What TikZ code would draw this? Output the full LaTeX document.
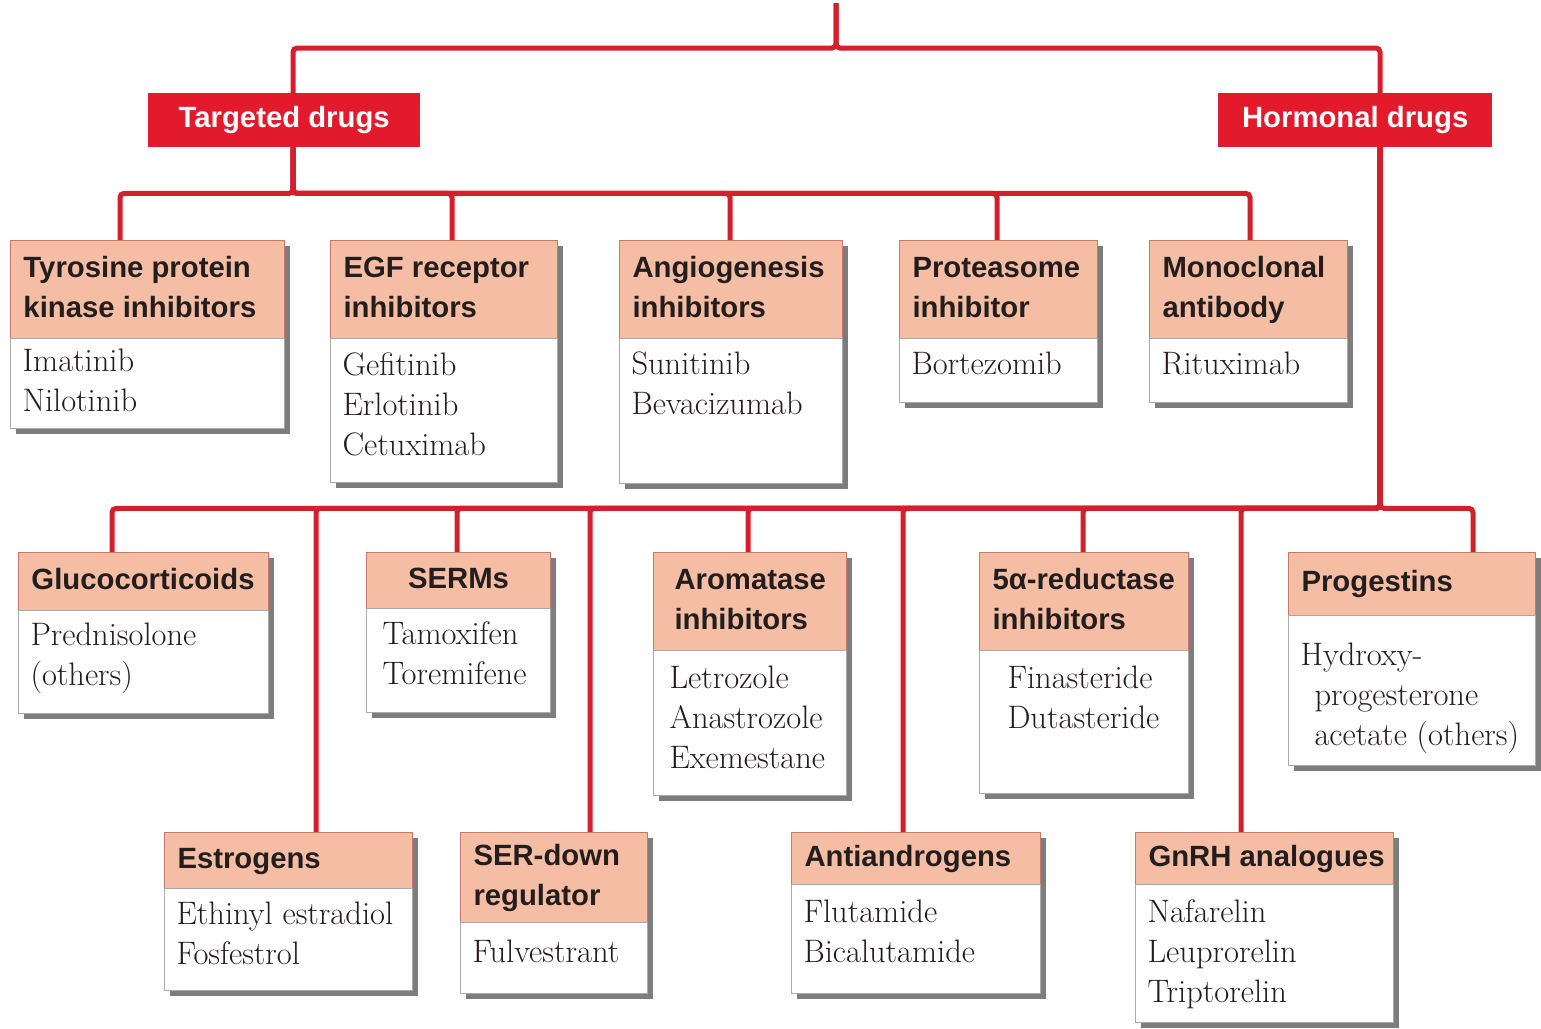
\documentclass[tikz,border=0pt]{standalone}
\usepackage{fontspec}
\usetikzlibrary{calc,shadows}
\newfontfamily\hsansfam{Liberation Sans}
\newcommand{\headfont}{\hsansfam\bfseries\fontsize{29.3}{40}\selectfont}
\newcommand{\bodyfont}{\fontsize{32.5}{40}\selectfont}
\definecolor{redline}{RGB}{212,32,44}
\definecolor{redfill}{RGB}{226,26,44}
\definecolor{salmon}{RGB}{246,189,165}
\definecolor{hdredge}{RGB}{200,120,105}
\definecolor{bodyedge}{RGB}{170,170,170}
\definecolor{shadowgray}{RGB}{125,125,125}
\definecolor{txt}{RGB}{35,30,30}
\pgfdeclarelayer{background}
\pgfsetlayers{background,main}
\tikzset{
  conn/.style={draw=redline, line width=5pt, rounded corners=4pt},
  hdr/.style={draw=hdredge, line width=1pt, fill=salmon, inner sep=0pt, anchor=north west,
    font=\headfont, text=txt,
    drop shadow={shadow xshift=5pt, shadow yshift=-5pt, fill=shadowgray, opacity=1}},
  bodybox/.style={draw=bodyedge, line width=1pt, fill=white, inner sep=0pt, anchor=north west,
    font=\bodyfont, text=txt,
    drop shadow={shadow xshift=5pt, shadow yshift=-5pt, fill=shadowgray, opacity=1}},
  redbox/.style={fill=redfill, text=white, font=\headfont, inner sep=0pt, anchor=north west}
}
% name, x1, x2, ytop, ymid, ybot, header, first baseline, body
\newcommand{\drugbox}[9]{%
  \pgfmathsetmacro{\dbw}{#3-#2}%
  \pgfmathsetmacro{\dbh}{#5-#4}%
  \pgfmathsetmacro{\dbb}{#6-#5}%
  \node[hdr] (#1h) at (#2,#4) {\parbox[c][\dbh pt][c]{\dbw pt}{\raggedright\leftskip=13pt\relax\rule{0pt}{23pt}#7\rule[-8pt]{0pt}{8pt}}};
  \node[bodybox] (#1b) at (#2,#5) {\parbox[c][\dbb pt][t]{\dbw pt}{\raggedright\leftskip=12pt\relax\rule{0pt}{#8pt}#9}};
}
\begin{document}
\begin{tikzpicture}[x=1pt,y=-1pt]
\useasboundingbox (0,0) rectangle (1541,1028);

% top-level red boxes
\node[redbox, minimum width=272pt, minimum height=54pt] (targ) at (148,93) {Targeted drugs};
\node[redbox, minimum width=274pt, minimum height=54pt] (horm) at (1218,93) {Hormonal drugs};
\coordinate (root) at (836,3);

% targeted drug boxes
\drugbox{tyr}{10}{284}{240}{338}{428}{Tyrosine protein\\kinase inhibitors}{33}{Imatinib\\Nilotinib}
\drugbox{egf}{330}{557}{240}{338}{482}{EGF receptor\\inhibitors}{37}{Gefitinib\\Erlotinib\\Cetuximab}
\drugbox{ang}{619}{842}{240}{338}{483}{Angiogenesis\\inhibitors}{36}{Sunitinib\\Bevacizumab}
\drugbox{pro}{899}{1097}{240}{338}{402}{Proteasome\\inhibitor}{36}{Bortezomib}
\drugbox{mab}{1149}{1347}{240}{338}{402}{Monoclonal\\antibody}{36}{Rituximab}

% hormonal drug boxes, upper row
\drugbox{glu}{18}{268}{552}{610}{713}{Glucocorticoids}{35}{Prednisolone\\(others)}
\drugbox{serm}{366}{550}{552}{608}{712}{\centering SERMs}{36}{\hspace*{4pt}Tamoxifen\\\hspace*{4pt}Toremifene}
\drugbox{aro}{653}{846}{552}{650}{795}{\hspace*{8pt}Aromatase\\\hspace*{8pt}inhibitors}{38}{\hspace*{4pt}Letrozole\\\hspace*{4pt}Anastrozole\\\hspace*{4pt}Exemestane}
\drugbox{red}{979}{1188}{552}{650}{793}{5α-reductase\\inhibitors}{38}{\hspace*{16pt}Finasteride\\\hspace*{16pt}Dutasteride}
\drugbox{prg}{1288}{1535}{552}{615}{765}{Progestins}{50}{Hydroxy-\\\hspace*{14pt}progesterone\\\hspace*{14pt}acetate (others)}

% hormonal drug boxes, lower row
\drugbox{est}{164}{412}{832}{888}{990}{Estrogens}{36}{Ethinyl estradiol\\Fosfestrol}
\drugbox{sed}{460}{647}{832}{922}{993}{SER-down\\regulator}{40}{Fulvestrant}
\drugbox{ant}{791}{1040}{832}{884}{993}{Antiandrogens}{38}{Flutamide\\Bicalutamide}
\drugbox{gnr}{1135}{1393}{832}{884}{1022}{GnRH analogues}{38}{Nafarelin\\Leuprorelin\\Triptorelin}

\begin{pgfonlayer}{background}
\fill[white] (0,0) rectangle (1541,1028);
% root to the two classes
\draw[conn] (root) -- ++(0,45) -| ($(targ.north west)+(145,0)$);
\draw[conn] (root) -- ++(0,45) -| ($(horm.north west)+(162,0)$);
% targeted
\foreach \n/\dx in {tyr/110, egf/122, ang/111, pro/98, mab/101}
  \draw[conn] ($(targ.south west)+(145,0)$) -- ++(0,46) -| ($(\n h.north west)+(\dx,0)$);
% hormonal
\foreach \n/\dx in {glu/94, est/152, serm/91, sed/130, aro/95, ant/112, red/104, gnr/106, prg/185}
  \draw[conn] ($(horm.south west)+(162,0)$) -- ++(0,361) -| ($(\n h.north west)+(\dx,0)$);
\end{pgfonlayer}
\end{tikzpicture}
\end{document}
